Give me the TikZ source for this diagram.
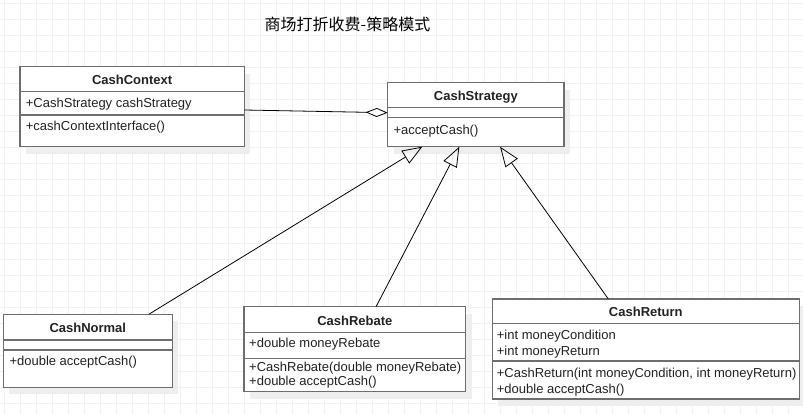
\documentclass[tikz,border=0pt]{standalone}
\usepackage{fontspec}
\setmainfont{Liberation Sans}
\newfontfamily\cjk{Noto Sans CJK SC}
\usetikzlibrary{arrows.meta,positioning,calc,shadows}
\definecolor{BoxCol}{HTML}{6E6E6E}
\definecolor{TextCol}{HTML}{222222}
\definecolor{GridCol}{HTML}{F1F1F1}
\definecolor{ShadowCol}{HTML}{EEEEEE}
\tikzset{
  class box/.style={
    shape=rectangle,
    draw=BoxCol,
    line width=1.5pt,
    fill=white,
    anchor=north west,
    inner sep=0pt,
    outer sep=0pt,
    drop shadow={shadow xshift=6pt,shadow yshift=-7pt,fill=ShadowCol,draw=none,opacity=1},
    },
  class line/.style={draw=BoxCol,line width=1.5pt},
  class name/.style={
    anchor=base,
    inner sep=0pt,
    text=TextCol,
    font=\fontsize{13}{15}\selectfont\bfseries,
    },
  member/.style={
    anchor=base west,
    inner sep=0pt,
    text=TextCol,
    font=\fontsize{13}{15}\selectfont,
    },
  diagram title/.style={
    inner sep=0pt,
    font=\cjk\fontsize{16}{18}\selectfont,
    },
  grid line/.style={draw=GridCol,line width=0.9pt},
}
\tikzstyle{Aggregation} = [-{Diamond[open,length=22pt,width=9pt]},line width=0.8pt]
\tikzstyle{Inherit} = [-{Triangle[open,length=20pt,width=15pt]},line width=0.8pt]

\begin{document}
\begin{tikzpicture}[x=1pt,y=-1pt]

    \fill[white] (0,0) rectangle (803,414);
    \useasboundingbox (0,0) rectangle (803,414);

    % Grid
    \foreach \gx in {4,20,...,804} \draw[grid line] (\gx,0) -- (\gx,414);
    \foreach \gy in {3,19,...,414} \draw[grid line] (0,\gy) -- (803,\gy);

    \node[diagram title] (title) at (347.5,24.7) {商场打折收费-策略模式};

    % Classes

    \node[class box,minimum width=224.3pt,minimum height=80pt] (context) at (20,66.7) {};
    \node[class name] (contextname) at ($(context.north)+(0,18)$) {CashContext};
    \node[member] (contextattr) at ($(context.north west)+(5.7,41.3)$) {+CashStrategy cashStrategy};
    \node[member] (contextop) at ($(context.north west)+(5.7,64.3)$) {+cashContextInterface()};

    \node[class box,minimum width=176.3pt,minimum height=64pt] (strategy) at (387.7,82.7) {};
    \node[class name] (strategyname) at ($(strategy.north)+(0,18.2)$) {CashStrategy};
    \node[member] (strategyop) at ($(strategy.north west)+(5.6,51.6)$) {+acceptCash()};

    \node[class box,minimum width=169pt,minimum height=73pt] (normal) at (3.3,314.3) {};
    \node[class name] (normalname) at ($(normal.north)+(0,18.5)$) {CashNormal};
    \node[member] (normalop) at ($(normal.north west)+(6,51.4)$) {+double acceptCash()};

    \node[class box,minimum width=221.7pt,minimum height=85pt] (rebate) at (244,306.7) {};
    \node[class name] (rebatename) at ($(rebate.north)+(0,18.4)$) {CashRebate};
    \node[member] (rebateattr) at ($(rebate.north west)+(5,41)$) {+double moneyRebate};
    \node[member] (rebateop) at ($(rebate.north west)+(5,64.3)$) {+CashRebate(double moneyRebate)};
    \node[member] (rebateaccept) at ($(rebate.north west)+(5,78.3)$) {+double acceptCash()};

    \node[class box,minimum width=307pt,minimum height=100pt] (return) at (492.3,299) {};
    \node[class name] (returnname) at ($(return.north)+(0,17.8)$) {CashReturn};
    \node[member] (returnattra) at ($(return.north west)+(4.4,40)$) {+int moneyCondition};
    \node[member] (returnattrb) at ($(return.north west)+(4.4,56)$) {+int moneyReturn};
    \node[member] (returnop) at ($(return.north west)+(4.4,78.7)$) {+CashReturn(int moneyCondition, int moneyReturn)};
    \node[member] (returnaccept) at ($(return.north west)+(4.4,94.3)$) {+double acceptCash()};

    % Compartments
    \foreach \cls/\dy in {context/25,context/48.3,strategy/25,strategy/35,
                          normal/25.7,normal/35.7,rebate/25.6,rebate/51.6,
                          return/24.3,return/62}
        \draw[class line] ($(\cls.north west)+(0,\dy)$) -- ($(\cls.north east)+(0,\dy)$);

    % Relations

    \draw[Aggregation] ([yshift=-3.3pt]context.east) -- ([yshift=2pt]strategy.west);

    \draw[Inherit] ([xshift=61pt]normal.north) -- ([xshift=-53.5pt]strategy.south);
    \draw[Inherit] ([xshift=21.2pt]rebate.north) -- ([xshift=-16.5pt]strategy.south);
    \draw[Inherit] ([xshift=-37.5pt]return.north) -- ([xshift=24.2pt]strategy.south);

\end{tikzpicture}
\end{document}
